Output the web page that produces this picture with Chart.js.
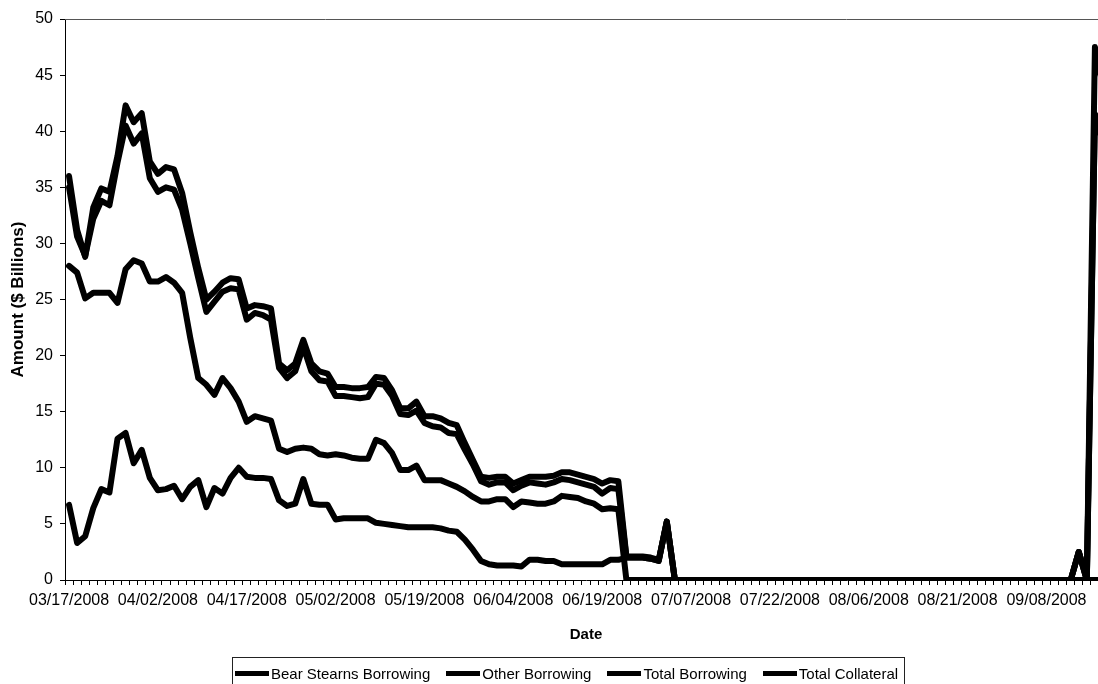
<!DOCTYPE html>
<html>
<head>
<meta charset="utf-8">
<title>PDCF borrowing</title>
<script src="https://cdn.jsdelivr.net/npm/chart.js@4.4.0/dist/chart.umd.min.js"></script>
<style>
  html, body { margin: 0; padding: 0; background: #fff; overflow: hidden; width: 1098px; height: 684px; }
  #chart { position: absolute; left: 0; top: 0; }
  #legend {
    position: absolute; left: 232px; top: 657px; height: 40px;
    box-sizing: border-box; border: 1px solid #222;
    font-family: "Liberation Sans", Arial, sans-serif; font-size: 15px; color: #000;
    display: inline-flex; align-items: flex-start; padding: 7px 6px 0 2px; white-space: nowrap;
  }
  .item { display: flex; align-items: center; margin-right: 16px; }
  .item:last-child { margin-right: 0; }
  .swatch { width: 34px; height: 5px; background: #000; margin-right: 2px; }
</style>
</head>
<body>
<canvas id="chart" width="1109" height="684"></canvas>
<div id="legend"></div>
<script>
// business days shown on the category axis
const dates = [
  "03/17/2008","03/18/2008","03/19/2008","03/20/2008","03/24/2008","03/25/2008","03/26/2008","03/27/2008","03/28/2008","03/31/2008",
  "04/01/2008","04/02/2008","04/03/2008","04/04/2008","04/07/2008","04/08/2008","04/09/2008","04/10/2008","04/11/2008","04/14/2008",
  "04/15/2008","04/16/2008","04/17/2008","04/18/2008","04/21/2008","04/22/2008","04/23/2008","04/24/2008","04/25/2008","04/28/2008",
  "04/29/2008","04/30/2008","05/01/2008","05/02/2008","05/05/2008","05/06/2008","05/07/2008","05/08/2008","05/09/2008","05/12/2008",
  "05/13/2008","05/14/2008","05/15/2008","05/16/2008","05/19/2008","05/20/2008","05/21/2008","05/22/2008","05/23/2008","05/27/2008",
  "05/28/2008","05/29/2008","05/30/2008","06/02/2008","06/03/2008","06/04/2008","06/05/2008","06/06/2008","06/09/2008","06/10/2008",
  "06/11/2008","06/12/2008","06/13/2008","06/16/2008","06/17/2008","06/18/2008","06/19/2008","06/20/2008","06/23/2008","06/24/2008",
  "06/25/2008","06/26/2008","06/27/2008","06/30/2008","07/01/2008","07/02/2008","07/03/2008","07/07/2008","07/08/2008","07/09/2008",
  "07/10/2008","07/11/2008","07/14/2008","07/15/2008","07/16/2008","07/17/2008","07/18/2008","07/21/2008","07/22/2008","07/23/2008",
  "07/24/2008","07/25/2008","07/28/2008","07/29/2008","07/30/2008","07/31/2008","08/01/2008","08/04/2008","08/05/2008","08/06/2008",
  "08/07/2008","08/08/2008","08/11/2008","08/12/2008","08/13/2008","08/14/2008","08/15/2008","08/18/2008","08/19/2008","08/20/2008",
  "08/21/2008","08/22/2008","08/25/2008","08/26/2008","08/27/2008","08/28/2008","08/29/2008","09/02/2008","09/03/2008","09/04/2008",
  "09/05/2008","09/08/2008","09/09/2008","09/10/2008","09/11/2008","09/12/2008","09/15/2008","09/16/2008","09/17/2008"
];

const bearStearns = [
  28.0,27.4,25.1,25.6,25.6,25.6,24.7,27.7,28.5,28.2,
  26.6,26.6,27.0,26.5,25.6,21.6,18.0,17.4,16.5,18.0,
  17.1,15.9,14.1,14.6,14.4,14.2,11.7,11.4,11.7,11.8,
  11.7,11.2,11.1,11.2,11.1,10.9,10.8,10.8,12.5,12.2,
  11.3,9.8,9.8,10.2,8.9,8.9,8.9,8.6,8.3,7.9,
  7.4,7.0,7.0,7.2,7.2,6.5,7.0,6.9,6.8,6.8,
  7.0,7.5,7.4,7.3,7.0,6.8,6.3,6.4,6.3,0,
  0,0,0,0,0,0,0,0,0,0,
  0,0,0,0,0,0,0,0,0,0,
  0,0,0,0,0,0,0,0,0,0,
  0,0,0,0,0,0,0,0,0,0,
  0,0,0,0,0,0,0,0,0,0,
  0,0,0,0,0,0,0,0,0
];

const otherBorrowing = [
  6.7,3.3,3.9,6.4,8.1,7.8,12.6,13.1,10.4,11.6,
  9.1,8.0,8.1,8.4,7.2,8.3,8.9,6.5,8.2,7.7,
  9.1,10.0,9.2,9.1,9.1,9.0,7.1,6.6,6.8,9.0,
  6.8,6.7,6.7,5.4,5.5,5.5,5.5,5.5,5.1,5.0,
  4.9,4.8,4.7,4.7,4.7,4.7,4.6,4.4,4.3,3.6,
  2.7,1.7,1.4,1.3,1.3,1.3,1.2,1.8,1.8,1.7,
  1.7,1.4,1.4,1.4,1.4,1.4,1.4,1.8,1.8,2.0,
  2.0,2.0,1.9,1.7,5.2,0,0,0,0,0,
  0,0,0,0,0,0,0,0,0,0,
  0,0,0,0,0,0,0,0,0,0,
  0,0,0,0,0,0,0,0,0,0,
  0,0,0,0,0,0,0,0,0,0,
  0,0,0,0,0,2.5,0,41.5,39.0
];

const totalBorrowing = [
  35.0,30.6,28.9,32.2,33.8,33.4,37.2,40.5,38.9,39.8,
  35.8,34.6,35.0,34.8,33.0,30.0,26.9,23.9,24.8,25.7,
  26.0,25.9,23.2,23.8,23.6,23.2,18.9,18.0,18.6,20.8,
  18.6,17.8,17.7,16.4,16.4,16.3,16.2,16.3,17.5,17.4,
  16.4,14.8,14.7,15.1,14.0,13.7,13.6,13.1,13.0,11.6,
  10.3,8.8,8.5,8.7,8.7,8.0,8.4,8.7,8.6,8.5,
  8.7,9.0,8.9,8.7,8.5,8.3,7.7,8.2,8.1,2.0,
  2.0,2.0,1.9,1.7,5.2,0,0,0,0,0,
  0,0,0,0,0,0,0,0,0,0,
  0,0,0,0,0,0,0,0,0,0,
  0,0,0,0,0,0,0,0,0,0,
  0,0,0,0,0,0,0,0,0,0,
  0,0,0,0,0,2.5,0,41.5,39.0
];

const totalCollateral = [
  36.0,31.2,28.8,33.2,34.9,34.6,37.8,42.3,40.8,41.6,
  37.3,36.2,36.8,36.6,34.5,31.0,27.8,25.0,25.7,26.5,
  26.9,26.8,24.2,24.5,24.4,24.2,19.3,18.7,19.3,21.4,
  19.3,18.6,18.4,17.2,17.2,17.1,17.1,17.2,18.1,18.0,
  16.9,15.3,15.3,15.9,14.6,14.6,14.4,14.0,13.8,12.2,
  10.7,9.2,9.1,9.2,9.2,8.6,8.9,9.2,9.2,9.2,
  9.3,9.6,9.6,9.4,9.2,9.0,8.6,8.9,8.8,2.1,
  2.1,2.1,2.0,1.8,5.2,0,0,0,0,0,
  0,0,0,0,0,0,0,0,0,0,
  0,0,0,0,0,0,0,0,0,0,
  0,0,0,0,0,0,0,0,0,0,
  0,0,0,0,0,0,0,0,0,0,
  0,0,0,0,0,2.5,0,47.5,44.0
];

const seriesNames = ["Bear Stearns Borrowing", "Other Borrowing", "Total Borrowing", "Total Collateral"];
const labelEvery = 11;
const fontFamily = '"Liberation Sans", Arial, sans-serif';

function make_dataset(name, values) {
    return {
        label: name,
        data: values,
        borderColor: '#000',
        backgroundColor: '#000',
        borderWidth: 6,
        pointRadius: 0,
        tension: 0,
        fill: false,
        borderJoinStyle: 'round',
        borderCapStyle: 'round',
        clip: { left: 6, right: 6, top: 6, bottom: 0 }
    };
}

// thin frame line along the top of the plot area
const plotBorder = {
    id: 'plotBorder',
    beforeDatasetsDraw(chart) {
        const { ctx, chartArea: a } = chart;
        ctx.save();
        ctx.strokeStyle = '#555';
        ctx.lineWidth = 1;
        ctx.beginPath();
        ctx.moveTo(a.left, a.top + 0.5);
        ctx.lineTo(a.right, a.top + 0.5);
        ctx.stroke();
        ctx.restore();
    }
};

const chart = new Chart(document.getElementById('chart').getContext('2d'), {
    type: 'line',
    data: {
        labels: dates,
        datasets: [
            make_dataset(seriesNames[0], bearStearns),
            make_dataset(seriesNames[1], otherBorrowing),
            make_dataset(seriesNames[2], totalBorrowing),
            make_dataset(seriesNames[3], totalCollateral)
        ]
    },
    options: {
        responsive: false,
        animation: false,
        layout: { padding: { top: 19, right: 0, bottom: 0, left: 0 } },
        plugins: {
            legend: { display: false },
            tooltip: { enabled: false }
        },
        scales: {
            x: {
                offset: true,
                grid: { display: true, offset: true, drawOnChartArea: false, drawTicks: true, tickLength: 5, color: '#000', lineWidth: 1 },
                border: { display: true, color: '#000', width: 1 },
                ticks: {
                    autoSkip: false, maxRotation: 0, minRotation: 0, padding: 6, color: '#000',
                    font: { family: fontFamily, size: 16 },
                    callback: function(value, index) {
                        return index % labelEvery === 0 ? this.getLabelForValue(value) : '';
                    }
                },
                title: {
                    display: true, text: 'Date', color: '#000',
                    font: { family: fontFamily, size: 15, weight: 'bold' },
                    padding: { top: 0, bottom: 40 }
                },
                afterFit: function(scale) { scale.height = 104; }
            },
            y: {
                min: 0,
                max: 50,
                grid: { display: true, drawOnChartArea: false, drawTicks: true, tickLength: 5, color: '#000' },
                border: { display: true, color: '#000', width: 1 },
                ticks: { stepSize: 5, padding: 7, color: '#000', font: { family: fontFamily, size: 16 } },
                title: {
                    display: true, text: 'Amount ($ Billions)', color: '#000',
                    font: { family: fontFamily, size: 17, weight: 'bold' },
                    padding: { top: 8, bottom: 0 }
                },
                afterFit: function(scale) { scale.width = 65; }
            }
        }
    },
    plugins: [plotBorder]
});

// legend drawn as html so it can sit off-centre like the original
const legendBox = document.getElementById('legend');
chart.data.datasets.forEach(function(ds) {
    const item = document.createElement('div');
    item.className = 'item';
    item.innerHTML = '<span class="swatch"></span><span>' + ds.label + '</span>';
    legendBox.appendChild(item);
});
</script>
</body>
</html>
